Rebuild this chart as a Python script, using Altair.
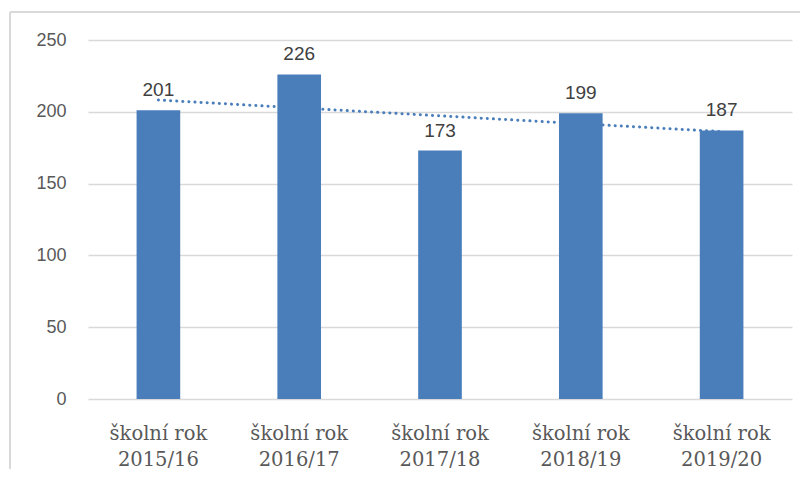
import altair as alt
import pandas as pd

years = ["2015/16", "2016/17", "2017/18", "2018/19", "2019/20"]
values = [201, 226, 173, 199, 187]
index = [1, 2, 3, 4, 5]

source = pd.DataFrame({"rok": years, "pocet": values, "idx": index})

W, H = 704, 359
BLUE = "#4A7EBB"

yscale = alt.Scale(domain=[0, 250], nice=False, zero=True)
xsort = years

base = alt.Chart(source)

xenc = alt.X(
    "rok:N",
    sort=xsort,
    scale=alt.Scale(paddingInner=0.69, paddingOuter=0.345),
    axis=alt.Axis(
        title=None,
        labelAngle=0,
        domain=False,
        ticks=False,
        labelExpr="['školní rok', datum.label]",
        labelFont="DejaVu Serif",
        labelFontSize=19.5,
        labelColor="#595959",
        labelLineHeight=26,
        labelPadding=25,
    ),
)

bars = base.mark_bar(color=BLUE).encode(
    x=xenc,
    y=alt.Y(
        "pocet:Q",
        scale=yscale,
        axis=alt.Axis(
            title=None,
            values=[0, 50, 100, 150, 200, 250],
            domain=False,
            ticks=False,
            grid=True,
            gridColor="#d9d9d9",
            gridWidth=1.5,
            labelFont="Liberation Sans",
            labelFontSize=18,
            labelColor="#595959",
            labelPadding=22,
        ),
    ),
)

labels = base.mark_text(
    baseline="bottom", dy=-10, fontSize=19, font="Liberation Sans", color="#404040"
).encode(
    x=alt.X("rok:N", sort=xsort),
    y=alt.Y("pocet:Q", scale=yscale),
    text="pocet:Q",
)

trend = (
    base.transform_regression("idx", "pocet", method="linear")
    .transform_lookup(lookup="idx", from_=alt.LookupData(data=source, key="idx", fields=["rok"]))
    .mark_line(color=BLUE, strokeWidth=3, strokeDash=[0.1, 6], strokeCap="round")
    .encode(x=alt.X("rok:N", sort=xsort), y=alt.Y("pocet:Q", scale=yscale))
)

frame_top = alt.Chart(source).mark_rule(color="#d9d9d9", strokeWidth=1.5).encode(
    x=alt.value(-78), x2=alt.value(W + 8), y=alt.value(-28)
)
frame_left = alt.Chart(source).mark_rule(color="#d9d9d9", strokeWidth=1.5).encode(
    x=alt.value(-78), y=alt.value(-28), y2=alt.value(H + 70)
)

chart = (
    alt.layer(frame_top, frame_left, bars, trend, labels)
    .properties(
        width=W,
        height=H,
        autosize=alt.AutoSizeParams(type="none"),
        padding={"left": 80, "top": 32, "right": 8, "bottom": 70},
        background="white",
    )
    .configure_view(stroke=None)
)

chart.save("out.html", embed_options={"renderer": "svg", "actions": False})
